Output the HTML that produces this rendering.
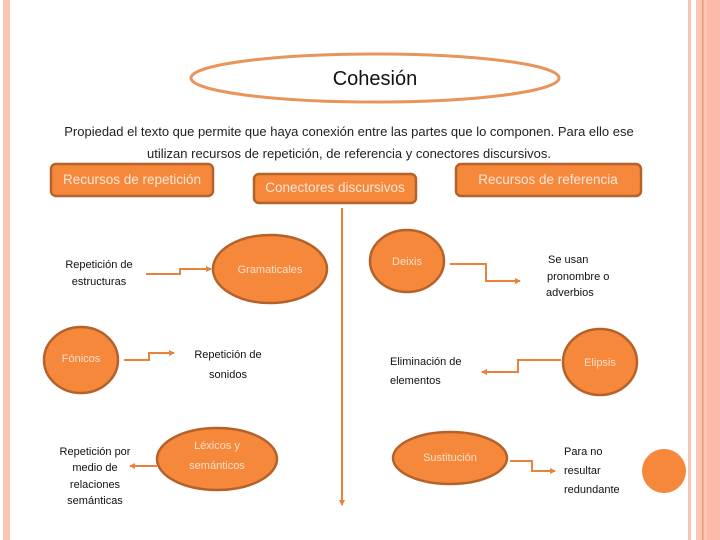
<!DOCTYPE html>
<html><head><meta charset="utf-8"><style>
html,body{margin:0;padding:0;background:#fff;}
svg{display:block;}
text{font-family:"Liberation Sans",sans-serif;}
</style></head><body>
<svg width="720" height="540" viewBox="0 0 720 540" xmlns="http://www.w3.org/2000/svg">
<defs>
<marker id="a" markerWidth="6" markerHeight="6" refX="5" refY="3" orient="auto" markerUnits="userSpaceOnUse"><path d="M0,0 L6,3 L0,6 Z" fill="#e8823c"/></marker>
</defs>
<rect x="0" y="0" width="720" height="540" fill="#fff"/>
<rect x="3" y="0" width="7" height="540" fill="#f8c6b2"/>
<rect x="688" y="0" width="3" height="540" fill="#f8c6b2"/>
<rect x="696" y="0" width="24" height="540" fill="#fcc6b4"/>
<rect x="702" y="0" width="1.5" height="540" fill="#e89a70"/>
<rect x="707" y="0" width="13" height="540" fill="#fbbba8"/>

<ellipse cx="375" cy="78" rx="184" ry="24" fill="#fff" stroke="#e8945a" stroke-width="3"/>
<text x="375" y="85" font-family="Liberation Serif,serif" font-size="20" text-anchor="middle" fill="#111">Cohesión</text>
<g font-size="13" fill="#222" text-anchor="middle">
<text x="349" y="136">Propiedad el texto que permite que haya conexión entre las partes que lo componen. Para ello ese</text>
<text x="349" y="158">utilizan recursos de repetición, de referencia y conectores discursivos.</text>
</g>

<g fill="#f6883c" stroke="#b5612a" stroke-width="2.5">
<rect x="51" y="164" width="162" height="32" rx="5"/>
<rect x="254" y="174" width="162" height="29" rx="5"/>
<rect x="456" y="164" width="185" height="32" rx="5"/>
</g>
<g font-size="13.5" fill="#fde6d6" text-anchor="middle">
<text x="132" y="184">Recursos de repetición</text>
<text x="335" y="192">Conectores discursivos</text>
<text x="548" y="184">Recursos de referencia</text>
</g>

<line x1="342" y1="208" x2="342" y2="505" stroke="#e8823c" stroke-width="2" marker-end="url(#a)"/>

<g fill="#f6883c" stroke="#b5612a" stroke-width="2.5">
<ellipse cx="270" cy="269" rx="57" ry="34"/>
<ellipse cx="407" cy="261" rx="37" ry="31"/>
<ellipse cx="81" cy="360" rx="37" ry="33"/>
<ellipse cx="600" cy="362" rx="37" ry="33"/>
<ellipse cx="217" cy="459" rx="60" ry="31"/>
<ellipse cx="450" cy="458" rx="57" ry="26"/>
</g>
<circle cx="664" cy="471" r="22" fill="#f6883c"/>

<g font-size="11" fill="#fde0c8" text-anchor="middle">
<text x="270" y="273">Gramaticales</text>
<text x="407" y="265">Deixis</text>
<text x="81" y="362">Fónicos</text>
<text x="600" y="366">Elipsis</text>
<text x="217" y="449">Léxicos y</text>
<text x="217" y="469">semánticos</text>
<text x="450" y="461">Sustitución</text>
</g>

<g fill="none" stroke="#e8823c" stroke-width="2">
<polyline points="146,274 180,274 180,269 211,269" marker-end="url(#a)"/>
<polyline points="450,264 486,264 486,281 520,281" marker-end="url(#a)"/>
<polyline points="124,360 149,360 149,353 174,353" marker-end="url(#a)"/>
<polyline points="561,360 518,360 518,372 482,372" marker-end="url(#a)"/>
<polyline points="157,466 130,466" marker-end="url(#a)"/>
<polyline points="510,461 532,461 532,471 555,471" marker-end="url(#a)"/>
</g>

<g font-size="11" fill="#111">
<text x="99" y="268" text-anchor="middle">Repetición de</text>
<text x="99" y="285" text-anchor="middle">estructuras</text>
<text x="548" y="263">Se usan</text>
<text x="547" y="280">pronombre o</text>
<text x="546" y="296">adverbios</text>
<text x="228" y="358" text-anchor="middle">Repetición de</text>
<text x="228" y="378" text-anchor="middle">sonidos</text>
<text x="390" y="365">Eliminación de</text>
<text x="390" y="384">elementos</text>
<text x="95" y="455" text-anchor="middle">Repetición por</text>
<text x="95" y="471" text-anchor="middle">medio de</text>
<text x="95" y="488" text-anchor="middle">relaciones</text>
<text x="95" y="504" text-anchor="middle">semánticas</text>
<text x="564" y="455">Para no</text>
<text x="564" y="474">resultar</text>
<text x="564" y="493">redundante</text>
</g>
</svg>
</body></html>
